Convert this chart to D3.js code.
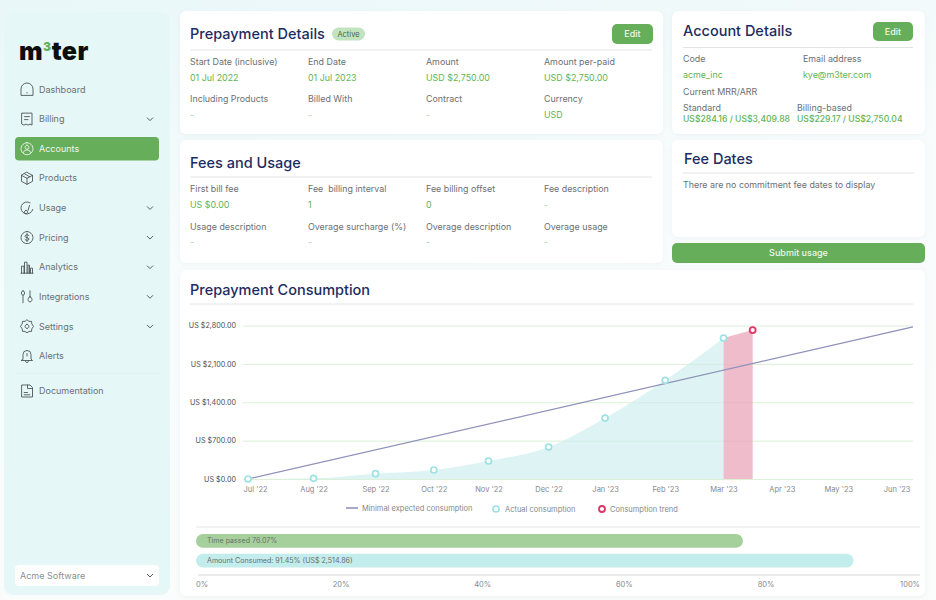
<!DOCTYPE html>
<html>
<head>
<meta charset="utf-8">
<script src="https://cdn.jsdelivr.net/npm/d3@7"></script>
<style>
  body { margin: 0; background: #fff; overflow: hidden; }
  text { font-family: Inter, "Open Sans", sans-serif; white-space: pre; }
</style>
</head>
<body>
<div id="app"></div>
<script>
// chart values
const tickDates = ["2022-07-01", "2022-08-06", "2022-09-09", "2022-10-11", "2022-11-10", "2022-12-13", "2023-01-13", "2023-02-15", "2023-03-19", "2023-04-20", "2023-05-21", "2023-06-22"];
const tickLabels = ["Jul '22", "Aug '22", "Sep '22", "Oct '22", "Nov '22", "Dec '22", "Jan '23", "Feb '23", "Mar '23", "Apr '23", "May '23", "Jun '23"];
const actualDates = tickDates.slice(0, 9);
const actualValues = [0, 12, 97, 164, 328, 583, 1112, 1800, 2570];
const trendDates = ["2023-03-19", "2023-04-04"];
const trendValues = [2570, 2716];
const expectedDates = ["2022-07-01", "2023-07-01"];
const expectedValues = [0, 2775];
const yTicks = [0, 700, 1400, 2100, 2800];
const legendLabels = ["Minimal expected consumption", "Actual consumption", "Consumption trend"];

const progressLabels = ["Time passed 76.07%", "Amount Consumed: 91.45% (US$ 2,514.86)"];
const progressValues = [76.07, 91.45];
const progressTicks = [0, 20, 40, 60, 80, 100];

const navItems = ["Dashboard", "Billing", "Accounts", "Products", "Usage", "Pricing", "Analytics", "Integrations", "Settings", "Alerts"];
const navWithChevron = ["Billing", "Usage", "Pricing", "Analytics", "Integrations", "Settings"];

const prepaymentLabels = ["Start Date (inclusive)", "End Date", "Amount", "Amount per-paid", "Including Products", "Billed With", "Contract", "Currency"];
const prepaymentValues = ["01 Jul 2022", "01 Jul 2023", "USD $2,750.00", "USD $2,750.00", "-", "-", "-", "USD"];
const feeLabels = ["First bill fee", "Fee  billing interval", "Fee billing offset", "Fee description", "Usage description", "Overage surcharge (%)", "Overage description", "Overage usage"];
const feeValues = ["US $0.00", "1", "0", "-", "-", "-", "-", "-"];

const navy = "#1d2c60", green = "#66ae59", valueGreen = "#5fb454", grey = "#6b7074", rule = "#e2e4e6";

const svg = d3.select("#app").append("svg").attr("width", 936).attr("height", 600).style("display", "block");

const defs = svg.append("defs");
const bg = defs.append("linearGradient").attr("id", "bg").attr("x1", 0).attr("y1", 0).attr("x2", 0.3).attr("y2", 1);
bg.append("stop").attr("offset", "0%").attr("stop-color", "#e9f7f9");
bg.append("stop").attr("offset", "45%").attr("stop-color", "#f8fcfc");
bg.append("stop").attr("offset", "100%").attr("stop-color", "#fbfcfc");
const shadow = defs.append("filter").attr("id", "shadow").attr("x", "-5%").attr("y", "-10%").attr("width", "110%").attr("height", "120%");
shadow.append("feDropShadow").attr("dx", 0).attr("dy", 1).attr("stdDeviation", 2.5).attr("flood-color", "#c5d3d6").attr("flood-opacity", 0.25);

svg.append("rect").attr("width", 936).attr("height", 600).attr("fill", "url(#bg)");

function label(g, x, y, str, size, color, weight, anchor) {
  return g.append("text").attr("x", x).attr("y", y).attr("dy", "0.35em")
    .attr("font-size", size).attr("fill", color).attr("font-weight", weight || 400)
    .attr("text-anchor", anchor || "start").text(str);
}

function card(x, y, w, h) {
  svg.append("rect").attr("x", x).attr("y", y).attr("width", w).attr("height", h)
    .attr("rx", 6).attr("fill", "#fff").attr("filter", "url(#shadow)");
}

function hr(x1, x2, y, color, width) {
  svg.append("line").attr("x1", x1).attr("x2", x2).attr("y1", y).attr("y2", y)
    .attr("stroke", color || rule).attr("stroke-width", width || 1);
}

function button(x, y, w, h, str) {
  svg.append("rect").attr("x", x).attr("y", y).attr("width", w).attr("height", h).attr("rx", 5).attr("fill", green);
  label(svg, x + w / 2, y + h / 2, str, 9, "#eef7ec", 500, "middle");
}

// 4 x 2 grid of label / value pairs
function fieldGrid(labels, values, rows) {
  const cols = [190, 308, 426, 544];
  labels.forEach((d, i) => {
    const c = cols[i % 4], r = rows[Math.floor(i / 4)];
    label(svg, c, r[0], d, 8.9, grey);
    // the empty "-" values are much paler than the real ones
    label(svg, c, r[1], values[i], 8.9, values[i] === "-" ? "#a9d8a3" : valueGreen, 400);
  });
}

// ---------- sidebar ----------
svg.append("rect").attr("x", 4).attr("y", 12).attr("width", 166).attr("height", 583).attr("rx", 9).attr("fill", "#e6f7f8");

const logo = svg.append("text").attr("x", 19).attr("y", 60).attr("font-size", 25).attr("font-weight", 900).attr("fill", "#0c0f0e").attr("letter-spacing", 0.5);
logo.append("tspan").text("m");
logo.append("tspan").text("3").attr("font-size", 12).attr("dy", -9).attr("fill", green);
logo.append("tspan").text("ter").attr("dy", 9);

const iconPaths = {
  Dashboard: "M-6 5.5V-.5a6 6 0 0 1 12 0V5.5ZM0 3v.5",
  Billing: "M-5 -6H5V6L3 5 1 6-1 5-3 6-5 5ZM-2.5 -2.5H2.5M-2.5 .5H1",
  Accounts: "M0 -6a6 6 0 1 0 .01 0ZM0 -3.5a2 2 0 1 0 .01 0ZM-3.8 3.8a4 4 0 0 1 7.6 0",
  Products: "M0 -6L5.5 -3V3L0 6-5.5 3V-3ZM-5.5 -3L0 0 5.5 -3M0 0V6M-2.5 -4.5L2.7 -1.5",
  Usage: "M3 -5.2A6 6 0 1 0 5.8 1.5M-1 2.5a1.7 1.7 0 1 0 .01 0ZM1 2.5L2.5 -2.5",
  Pricing: "M0 -6a6 6 0 1 0 .01 0ZM2 -2C1 -3.3-2 -3-2 -1.2-2 .6 2 -.4 2 1.4 2 3.2-1 3.3-2 2M0 -4V4",
  Analytics: "M-6 6H6M-5.5 6V-1H-3V6M-2.5 6V-5H0V6M1 6V-2H2.5V6M3.5 6V1H5.5V6",
  Integrations: "M-4 -6a1.6 2.2 0 1 0 .01 0ZM-4 -1.5V6M3 0a2 2.6 0 1 0 .01 0ZM3 0V-6",
  Settings: "M0 -6.5L2 -5 4.5 -5 4.8 -2.5 6.5 0 4.8 2.5 4.5 5 2 5 0 6.5-2 5-4.5 5-4.8 2.5-6.5 0-4.8 -2.5-4.5 -5-2 -5ZM0 -2a2 2 0 1 0 .01 0Z",
  Alerts: "M-4 3V-1.5a4 4 0 0 1 8 0V3L5.5 4.5H-5.5ZM-1.5 5.5a1.6 1.6 0 0 0 3 0M0 -2.5V0",
  Documentation: "M-5 -6H3L5.5 -3.5V6H-5ZM.5 -6V-2.5H5.5M-2.8 1.5H.5M-2.8 3.8H2.8"
};

function navIcon(name, y, color) {
  svg.append("path").attr("transform", `translate(27,${y})`).attr("d", iconPaths[name])
    .attr("fill", "none").attr("stroke", color).attr("stroke-width", 0.9).attr("stroke-linejoin", "round").attr("stroke-linecap", "round");
}

function chevron(y) {
  svg.append("path").attr("transform", `translate(150,${y})`).attr("d", "M-3 -1.5L0 1.5 3 -1.5")
    .attr("fill", "none").attr("stroke", "#555f63").attr("stroke-width", 1);
}

svg.append("rect").attr("x", 15).attr("y", 137).attr("width", 144).attr("height", 23.5).attr("rx", 4).attr("fill", green);

const navY = d3.scaleLinear().domain([0, 9]).range([89.5, 356]);
navItems.forEach((d, i) => {
  const active = d === "Accounts";
  navIcon(d, navY(i), active ? "#eef7ec" : "#4d5558");
  label(svg, 39, navY(i), d, 9, active ? "#eef7ec" : grey);
  if (navWithChevron.includes(d)) chevron(navY(i));
});
hr(15, 159, 373.5, "#dff1f2");
navIcon("Documentation", 391, "#4d5558");
label(svg, 39, 391, "Documentation", 9, grey);

svg.append("rect").attr("x", 15).attr("y", 565).attr("width", 144).attr("height", 21).attr("rx", 4).attr("fill", "#fff");
label(svg, 20, 575.5, "Acme Software", 9, "#8a9092");
chevron(575.5);

// ---------- prepayment details ----------
card(180, 11, 483, 123);
label(svg, 190, 34, "Prepayment Details", 14.5, navy, 500);
svg.append("rect").attr("x", 332).attr("y", 27.5).attr("width", 33).attr("height", 13).attr("rx", 6.5).attr("fill", "#c2e3c0");
label(svg, 348.5, 34.5, "Active", 7.5, "#4a634a", 400, "middle");
button(612, 24, 41, 20, "Edit");
hr(190, 652, 50);
fieldGrid(prepaymentLabels, prepaymentValues, [[62, 78], [99, 115]]);

// ---------- fees and usage ----------
card(180, 140, 483, 123);
label(svg, 190, 163, "Fees and Usage", 14.5, navy, 500);
hr(190, 652, 177);
fieldGrid(feeLabels, feeValues, [[189, 205], [227, 242]]);

// ---------- account details ----------
card(672, 11, 253, 123);
label(svg, 683, 31, "Account Details", 14.5, navy, 500);
button(873, 22, 40, 19, "Edit");
hr(683, 913, 47.5);
label(svg, 683, 59, "Code", 8.9, grey);
label(svg, 803, 59, "Email address", 8.9, grey);
label(svg, 683, 75, "acme_inc", 8.9, valueGreen);
label(svg, 803, 75, "kye@m3ter.com", 8.9, valueGreen);
label(svg, 683, 92, "Current MRR/ARR", 8.9, grey);
label(svg, 683, 108, "Standard", 8.9, grey);
label(svg, 797, 108, "Billing-based", 8.9, grey);
label(svg, 683, 118.5, "US$284.16 / US$3,409.88", 8.6, valueGreen, 500);
label(svg, 797, 118.5, "US$229.17 / US$2,750.04", 8.6, valueGreen, 500);

// ---------- fee dates ----------
card(672, 140, 253, 97);
label(svg, 684, 159, "Fee Dates", 14.5, navy, 500);
hr(683, 914, 173, rule, 1.2);
label(svg, 683, 185, "There are no commitment fee dates to display", 8.9, grey);

svg.append("rect").attr("x", 672).attr("y", 243).attr("width", 253).attr("height", 20).attr("rx", 5).attr("fill", green);
label(svg, 798.5, 253, "Submit usage", 9, "#eef7ec", 500, "middle");

// ---------- prepayment consumption ----------
card(180, 270, 745, 326);
label(svg, 190, 290, "Prepayment Consumption", 14.5, navy, 500);
hr(190, 913, 304);

const parse = d3.utcParse("%Y-%m-%d");
const x = d3.scaleUtc().domain([parse(expectedDates[0]), parse(expectedDates[1])]).range([248, 913]);
const y = d3.scaleLinear().domain([0, 2800]).range([479, 325.5]);

const grid = svg.append("g").attr("transform", "translate(243,0)")
  .call(d3.axisLeft(y).tickValues(yTicks).tickSize(-670).tickFormat(""));
grid.select(".domain").remove();
grid.selectAll("line").attr("stroke", "#dbefd9");

const actual = actualDates.map((d, i) => ({ date: parse(d), value: actualValues[i] }));
const trend = trendDates.map((d, i) => ({ date: parse(d), value: trendValues[i] }));
const expected = expectedDates.map((d, i) => ({ date: parse(d), value: expectedValues[i] }));

const area = d3.area().x(d => x(d.date)).y0(y(0)).y1(d => y(d.value));
svg.append("path").datum(actual).attr("d", area.curve(d3.curveMonotoneX)).attr("fill", "#c8eced").attr("fill-opacity", 0.6);
svg.append("path").datum(trend).attr("d", area.curve(d3.curveLinear)).attr("fill", "#e9a6ba").attr("fill-opacity", 0.75);

const line = d3.line().x(d => x(d.date)).y(d => y(d.value));
svg.append("path").datum(expected).attr("d", line).attr("fill", "none").attr("stroke", "#8d92b8").attr("stroke-width", 1.2);

svg.selectAll(".actual").data(actual).join("circle").attr("class", "actual")
  .attr("cx", d => x(d.date)).attr("cy", d => y(d.value)).attr("r", 3)
  .attr("fill", "#fff").attr("stroke", "#9fe2e3").attr("stroke-width", 1.7);
svg.selectAll(".trend").data(trend.slice(1)).join("circle").attr("class", "trend")
  .attr("cx", d => x(d.date)).attr("cy", d => y(d.value)).attr("r", 3)
  .attr("fill", "#fff").attr("stroke", "#df3564").attr("stroke-width", 1.8);

const yAxis = svg.append("g").attr("transform", "translate(236,0)")
  .call(d3.axisLeft(y).tickValues(yTicks).tickSize(0).tickPadding(0).tickFormat(d => "US $" + d3.format(",.2f")(d)));
yAxis.select(".domain").remove();
yAxis.selectAll("text").attr("font-size", 7.2).attr("fill", "#4a4e52").attr("font-family", "Inter");

const xAxis = svg.append("g").attr("transform", "translate(0,484)")
  .call(d3.axisBottom(x).tickValues(tickDates.map(parse)).tickSize(0).tickPadding(3).tickFormat((d, i) => tickLabels[i]));
xAxis.select(".domain").remove();
xAxis.selectAll("text").attr("font-size", 7.5).attr("fill", "#85898c").attr("font-family", "Inter");
// first label starts at the edge of the grid instead of centring on its point
xAxis.select(".tick text").attr("text-anchor", "start").attr("x", -5);

// legend
svg.append("line").attr("x1", 346).attr("x2", 358).attr("y1", 508).attr("y2", 508).attr("stroke", "#7f84ad").attr("stroke-width", 1.4);
label(svg, 362, 508.5, legendLabels[0], 7.5, "#85898c");
svg.append("circle").attr("cx", 496).attr("cy", 509).attr("r", 3).attr("fill", "#fff").attr("stroke", "#9fe2e3").attr("stroke-width", 1.7);
label(svg, 505, 509, legendLabels[1], 7.5, "#85898c");
svg.append("circle").attr("cx", 602).attr("cy", 509).attr("r", 3).attr("fill", "#fff").attr("stroke", "#df3564").attr("stroke-width", 1.8);
label(svg, 610, 509.5, legendLabels[2], 7.5, "#85898c");

// ---------- progress bars ----------
hr(196, 920, 527, "#eceeee", 1.5);
const pct = d3.scaleLinear().domain([0, 100]).range([196, 915]);
const barY = d3.scaleBand().domain(progressLabels).range([534, 567.5]).paddingInner(0.3);
const barFills = ["#a5d09b", "#c3ecec"];
svg.selectAll(".bar").data(progressLabels).join("rect").attr("class", "bar")
  .attr("x", pct(0)).attr("y", d => barY(d)).attr("height", barY.bandwidth()).attr("rx", barY.bandwidth() / 2)
  .attr("width", (d, i) => pct(progressValues[i]) - pct(0)).attr("fill", (d, i) => barFills[i]);
progressLabels.forEach(d => label(svg, 207, barY(d) + barY.bandwidth() / 2, d, 7.1, "#66706b"));

hr(198, 920, 575, "#d5d7d8");
const tickX = d3.scaleLinear().domain([20, 80]).range([341, 766]);
progressTicks.forEach((d, i) => {
  const first = i === 0, last = i === progressTicks.length - 1;
  label(svg, first ? 196 : last ? 920 : tickX(d), 584, d + "%", 7.5, "#85898c", 400, first ? "start" : last ? "end" : "middle");
});
</script>
</body>
</html>
